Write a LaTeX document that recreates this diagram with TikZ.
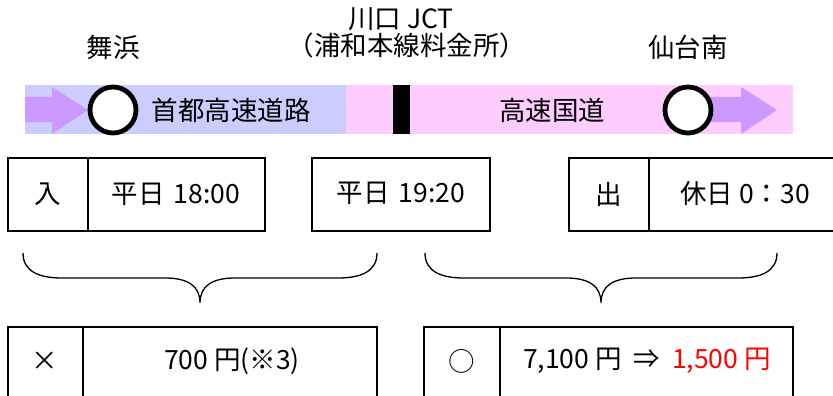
\documentclass[tikz,border=0pt]{standalone}
\usepackage{fontspec}
\setmainfont{Noto Sans CJK JP}
\begin{document}
\begin{tikzpicture}[x=1pt,y=-1pt,
  lbl/.style={font=\fontsize{26.5}{28}\selectfont, inner sep=0pt, anchor=center},
  cell/.style={draw=black, line width=1.6pt, inner sep=0pt},
  station/.style={circle, draw=black, line width=4.8pt, fill=white, minimum size=46pt, inner sep=0pt},
  bracepath/.style={draw=black, line width=1.3pt}
]
\definecolor{bandblue}{HTML}{CCCCFF}
\definecolor{bandpink}{HTML}{FFCCFF}
\definecolor{arrowpurple}{HTML}{CC99FF}
\useasboundingbox (0,0) rectangle (833,396);
\clip (0,0) rectangle (833,396);

% band
\fill[bandblue] (25,85) rectangle (346,134);
\fill[bandpink] (346,85) rectangle (793,134);
\fill[black] (393,85) rectangle (410,134);

% flow arrows
\fill[arrowpurple] (25,97) -- (52,97) -- (52,87) -- (88,110) -- (52,134) -- (52,122) -- (25,122) -- cycle;
\fill[arrowpurple] (700,97) -- (741,97) -- (741,87) -- (777,110) -- (741,134) -- (741,122) -- (700,122) -- cycle;

% stations
\node[station] (st1) at (113,110) {};
\node[station] (st2) at (688,110) {};

% band labels
\node[lbl] (road1) at (231,110) {首都高速道路};
\node[lbl] (road2) at (552,110) {高速国道};

% top labels
\node[lbl] (n1) at (113,47) {舞浜};
\node[lbl] (n2) at (688,47) {仙台南};
\node[lbl] (j1) at (401,19) {川口 JCT};
\node[lbl] (j2) at (407,45) {（浦和本線料金所）};

% row 1 boxes
\draw[line width=1.6pt] (8,158) rectangle (265,231);
\draw[line width=1.6pt] (88,158) -- (88,231);
\node[lbl] (in) at (48,194) {入};
\node[lbl] (t1) at (176,194) {平日\hspace{3pt} 18:00};

\draw[line width=1.6pt] (312,158) rectangle (490,231);
\node[lbl] (t2) at (401,193) {平日\hspace{3pt} 19:20};

\draw[line width=1.6pt] (569,158) rectangle (845,231);
\draw[line width=1.6pt] (649,158) -- (649,231);
\node[lbl] (out) at (609,194) {出};
\node[lbl] (t3) at (745,194) {休日 0：30};

% braces
\draw[bracepath] (23,253) .. controls (23,272) and (40,278) .. (62,278) -- (165,278)
  .. controls (188,278) and (200,286) .. (200,303)
  .. controls (200,286) and (212,278) .. (235,278) -- (338,278)
  .. controls (360,278) and (377,272) .. (377,253);
\draw[bracepath] (425,253) .. controls (425,272) and (442,278) .. (464,278) -- (566,278)
  .. controls (589,278) and (601,286) .. (601,303)
  .. controls (601,286) and (613,278) .. (636,278) -- (738,278)
  .. controls (760,278) and (777,272) .. (777,253);

% row 2 boxes
\draw[line width=1.6pt] (8,410) -- (8,327) -- (377,327) -- (377,410);
\draw[line width=1.6pt] (83,327) -- (83,410);
\node[lbl] (x) at (45,361) {×};
\node[lbl] (p1) at (232,361) {700 円(※3)};

\draw[line width=1.6pt] (424,410) -- (424,327) -- (793,327) -- (793,410);
\draw[line width=1.6pt] (500,327) -- (500,410);
\node[lbl] (o) at (462,361) {○};
\node[lbl] (p2) at (647,361) {7,100 円\hspace{6pt} ⇒ \hspace{6pt}\textcolor{red}{1,500 円}};
\end{tikzpicture}
\end{document}
